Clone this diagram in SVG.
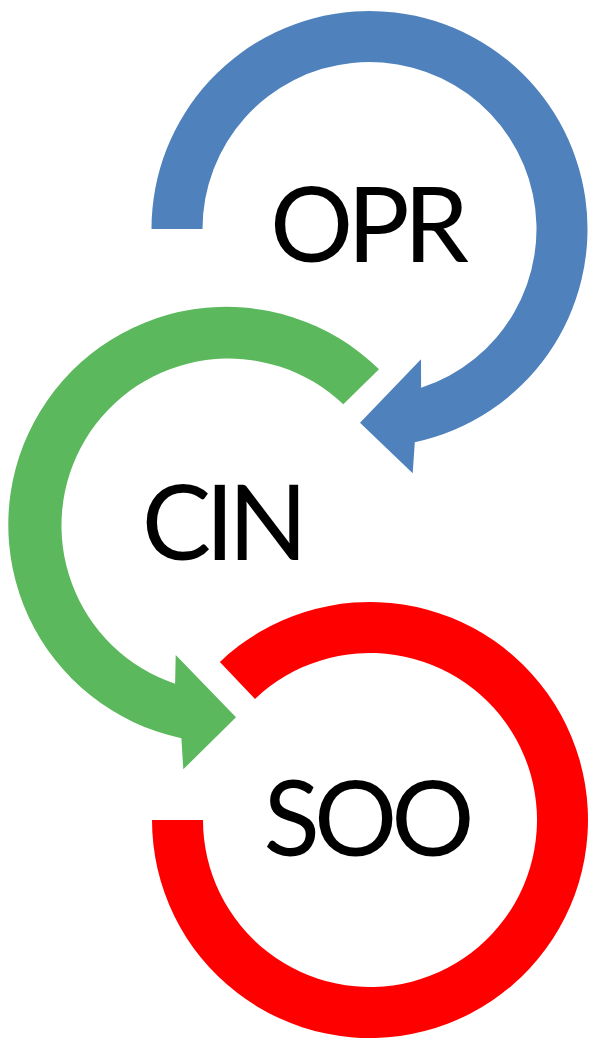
<svg xmlns="http://www.w3.org/2000/svg" width="589" height="1038" viewBox="0 0 589 1038">
<style>
.lbl{font-family:Lato,"Open Sans","Liberation Sans",sans-serif;font-size:104px;fill:#000;text-anchor:middle;letter-spacing:-6px}
</style>
<rect width="589" height="1038" fill="#fff"/>
<g id="connectors">
<path id="arrow-opr" fill="#4F81BD" d="M151.5,229 A218,218 0 1 1 414.8,442.2 L412.7,473.3 L360,422.7 L421,359.3 L421.1,387.8 A167,167 0 1 0 202.5,229 Z"/>
<path id="arrow-cin" fill="#5CB85C" d="M379,369.3 A218,218 0 1 0 181.4,738.2 L183.3,769.3 L236,717.3 L175.7,655 L175.1,683.8 A167,167 0 1 1 343.3,404.3 Z"/>
<path id="ring-soo" fill="#FF0000" d="M219.9,661.9 A218,218 0 1 1 152,820 L203,820 A167,167 0 1 0 255,698.9 Z"/>
</g>
<g id="node-opr"><text class="lbl" x="366.5" y="262">OPR</text></g>
<g id="node-cin"><text class="lbl" x="221.7" y="559.5">CIN</text></g>
<g id="node-soo"><text class="lbl" x="366" y="856">SOO</text></g>
</svg>
